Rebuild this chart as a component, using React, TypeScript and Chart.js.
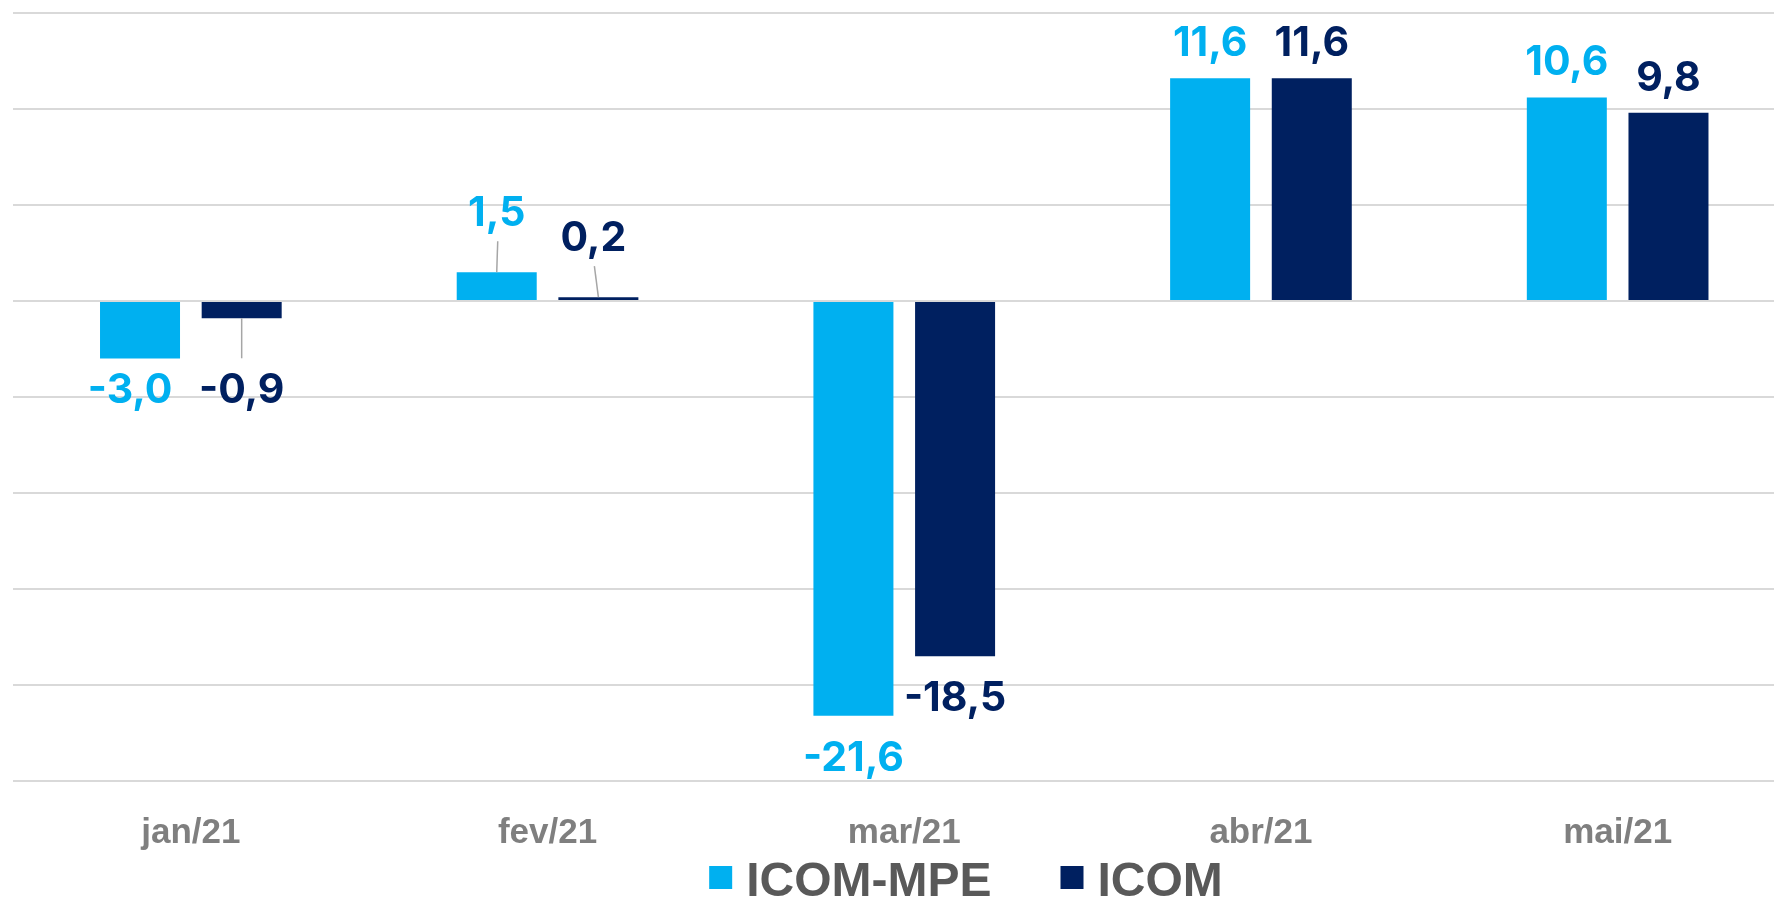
import React, { useEffect, useRef } from "react";
import { Chart, registerables } from "chart.js";

Chart.register(...registerables);

// ---- Data ----
const categories = ["jan/21", "fev/21", "mar/21", "abr/21", "mai/21"];
const seriesNames = ["ICOM-MPE", "ICOM"];
const icomMpeValues = [-3.0, 1.5, -21.6, 11.6, 10.6];
const icomValues = [-0.9, 0.2, -18.5, 11.6, 9.8];
const yMin = -25;
const yMax = 15;
const yStep = 5;

// ---- Style ----
const COLORS = ["#00B0F0", "#002060"];
const GRID_COLOR = "#D9D9D9";
const TICK_COLOR = "#7F7F7F";
const LEGEND_COLOR = "#595959";
const LEADER_COLOR = "#A6A6A6";
const LABEL_FONT = "700 41px Inter";
const LABEL_CAP = 30;
const CANVAS_W = 1800;
const CANVAS_H = 897;
// small manual nudges of individual value labels (style only)
const labelNudges = [
  { series: 0, index: 0, dx: -10, dy: -11 },
  { series: 1, index: 1, dx: -5, dy: 0 },
];

const fmt = (v: number) => v.toFixed(1).replace(".", ",");

const valueLabelPlugin = {
  id: "valueLabels",
  afterDatasetsDraw(chart: any) {
    const ctx = chart.ctx;
    ctx.save();
    chart.data.datasets.forEach((ds: any, di: number) => {
      const meta = chart.getDatasetMeta(di);
      meta.data.forEach((bar: any, i: number) => {
        const v = ds.data[i] as number;
        const small = Math.abs(v) < 2;
        const n = labelNudges.find((q) => q.series === di && q.index === i);
        const dx = n ? n.dx : 0;
        const dy = n ? n.dy : 0;
        const x = bar.x + dx;
        ctx.font = LABEL_FONT;
        ctx.fillStyle = COLORS[di];
        ctx.textAlign = "center";
        ctx.textBaseline = "alphabetic";
        if (v >= 0) {
          const baseline = bar.y - (small ? 46 : 22) + dy;
          ctx.fillText(fmt(v), x, baseline);
          if (small) {
            ctx.strokeStyle = LEADER_COLOR;
            ctx.lineWidth = 1.5;
            ctx.beginPath();
            ctx.moveTo(bar.x, bar.y);
            ctx.lineTo(x + 1, baseline + 15);
            ctx.stroke();
          }
        } else {
          const capTop = bar.y + (small ? 55 : 25) + dy;
          ctx.fillText(fmt(v), x, capTop + LABEL_CAP);
          if (small) {
            ctx.strokeStyle = LEADER_COLOR;
            ctx.lineWidth = 1.5;
            ctx.beginPath();
            ctx.moveTo(bar.x, bar.y);
            ctx.lineTo(x, capTop - 15);
            ctx.stroke();
          }
        }
      });
    });
    ctx.restore();
  },
};

const legendPlugin = {
  id: "customLegend",
  afterDraw(chart: any) {
    const ctx = chart.ctx;
    ctx.save();
    ctx.font = '700 48px "Liberation Sans", Arial, sans-serif';
    const box = 23;
    const gapBoxText = 14;
    const gapItems = 69;
    const names = chart.data.datasets.map((d: any) => d.label as string);
    const widths = names.map((s: string) => ctx.measureText(s).width);
    let total = 0;
    widths.forEach((w: number, i: number) => {
      total += box + gapBoxText + w + (i < widths.length - 1 ? gapItems : 0);
    });
    const centerX = 966;
    let x = centerX - total / 2;
    const boxTop = 866;
    const baseline = 896;
    names.forEach((name: string, i: number) => {
      ctx.fillStyle = chart.data.datasets[i].backgroundColor;
      ctx.fillRect(x, boxTop, box, box);
      x += box + gapBoxText;
      ctx.fillStyle = LEGEND_COLOR;
      ctx.textAlign = "left";
      ctx.textBaseline = "alphabetic";
      ctx.fillText(name, x, baseline);
      x += widths[i] + gapItems;
    });
    ctx.restore();
  },
};

export default function App() {
  const canvasRef = useRef<HTMLCanvasElement | null>(null);

  useEffect(() => {
    document.body.style.margin = "0";
    document.body.style.overflow = "hidden";
    document.documentElement.style.overflow = "hidden";
    const canvas = canvasRef.current;
    if (!canvas) return;
    const chart = new Chart(canvas, {
      type: "bar",
      data: {
        labels: categories,
        datasets: [
          {
            label: seriesNames[0],
            data: icomMpeValues,
            backgroundColor: COLORS[0],
            categoryPercentage: 0.57,
            barPercentage: 0.787,
          },
          {
            label: seriesNames[1],
            data: icomValues,
            backgroundColor: COLORS[1],
            categoryPercentage: 0.57,
            barPercentage: 0.787,
          },
        ],
      },
      options: {
        responsive: false,
        animation: false,
        maintainAspectRatio: false,
        layout: { padding: { top: 13, left: 12.5, right: 4, bottom: 12 } },
        plugins: {
          legend: { display: false },
          tooltip: { enabled: false },
        },
        scales: {
          x: {
            grid: { display: false, drawTicks: false },
            border: { display: false },
            ticks: {
              color: TICK_COLOR,
              padding: 31,
              font: { family: '"Liberation Sans", Arial, sans-serif', size: 35, weight: "bold" },
            },
          },
          y: {
            min: yMin,
            max: yMax,
            grid: { color: GRID_COLOR, lineWidth: 2, drawTicks: false },
            border: { display: false },
            ticks: { display: false, stepSize: yStep },
          },
        },
      },
      plugins: [valueLabelPlugin, legendPlugin],
    });
    return () => chart.destroy();
  }, []);

  return (
    <div style={{ width: 1774, height: CANVAS_H, overflow: "hidden", position: "relative" }}>
      <canvas ref={canvasRef} width={CANVAS_W} height={CANVAS_H} style={{ display: "block" }} />
    </div>
  );
}
